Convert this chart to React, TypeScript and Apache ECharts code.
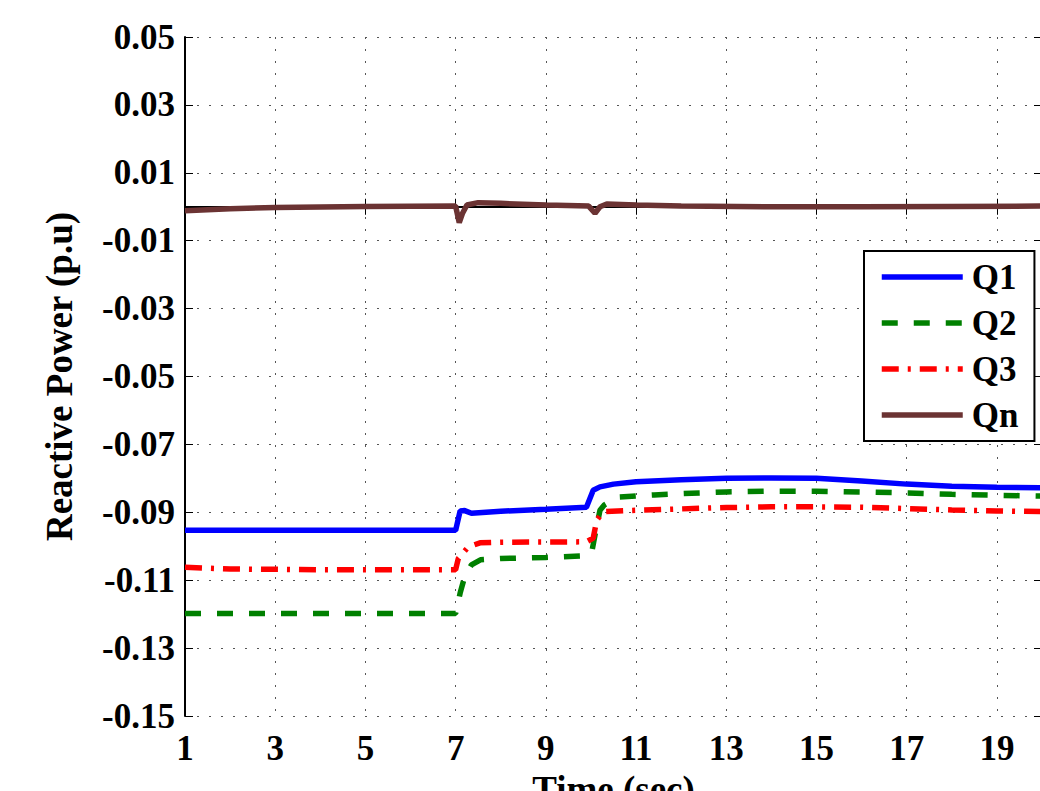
import React, { useEffect, useRef } from "react";
import * as echarts from "echarts";

const timeQ1 = [1, 7.0, 7.1, 7.2, 7.35, 8, 9, 9.9, 10.05, 10.2, 10.5, 11, 12, 13, 14, 15, 16, 17, 18, 19, 20];
const q1 = [-0.0953, -0.0953, -0.0896, -0.0895, -0.0903, -0.0897, -0.0891, -0.0885, -0.0835, -0.0825, -0.0817, -0.081, -0.0804, -0.08, -0.0799, -0.08, -0.0808, -0.0817, -0.0823, -0.0826, -0.0828];

const timeQ2 = [1, 7.0, 7.1, 7.2, 7.35, 7.55, 8, 9, 9.9, 10.02, 10.1, 10.2, 10.3, 10.6, 11.4, 12, 13, 14, 15, 16, 17, 18, 19, 20];
const q2 = [-0.1198, -0.1198, -0.1138, -0.109, -0.1055, -0.104, -0.1036, -0.1033, -0.1028, -0.1016, -0.096, -0.0894, -0.0878, -0.0855, -0.0849, -0.0845, -0.084, -0.0838, -0.0838, -0.084, -0.0843, -0.0847, -0.085, -0.0852];

const timeQ3 = [1, 2, 4, 7.0, 7.06, 7.28, 7.54, 8, 9.9, 10.05, 10.13, 10.27, 10.8, 12, 13, 14, 15, 16, 17, 18, 19, 20];
const q3 = [-0.1062, -0.1067, -0.1069, -0.1069, -0.1036, -0.1002, -0.099, -0.0988, -0.0987, -0.0976, -0.0923, -0.0898, -0.0895, -0.089, -0.0886, -0.0884, -0.0884, -0.0885, -0.0889, -0.0893, -0.0896, -0.0898];

const timeQn = [1, 2, 3, 5, 7.0, 7.08, 7.15, 7.25, 7.5, 8, 9, 9.95, 10.09, 10.2, 10.35, 11, 12, 14, 16, 18, 20];
const qn = [-0.0012, -0.0006, -0.0002, 0.0001, 0.0002, -0.0047, -0.002, 0.0005, 0.0012, 0.001, 0.0005, 0.0002, -0.0019, 0.0, 0.0008, 0.0005, 0.0002, 0.0, 0.0, 0.0001, 0.0002];

const seriesNames = ["Q1", "Q2", "Q3", "Qn"];
const xTicks = { min: 1, max: 20, interval: 2 };
const yTicks = { min: -0.15, max: 0.05, interval: 0.02 };

const FONT = "'Liberation Serif', 'Times New Roman', serif";

function pairs(t: number[], v: number[]) {
  return t.map((x, i) => [x, v[i]]);
}

export default function App() {
  const ref = useRef<HTMLDivElement>(null);
  useEffect(() => {
    if (!ref.current) return;
    const chart = echarts.init(ref.current, null, { renderer: "svg" });
    const gridLine = { show: true, lineStyle: { color: "#555", width: 1, type: [2, 10] as any } };
    const axisLine = { show: true, lineStyle: { color: "#000", width: 2 } };
    const tick = { show: true, inside: true, length: 8, lineStyle: { color: "#000", width: 1 } };
    const label = { color: "#000", fontFamily: FONT, fontWeight: "bold" as const, fontSize: 35 };
    const LW = 5.5;
    chart.setOption({
      animation: false,
      backgroundColor: "#fff",
      grid: { left: 185, right: -2, top: 37, bottom: 75, containLabel: false, outerBoundsMode: "none" },
      legend: {
        orient: "vertical",
        left: 864,
        top: 251,
        data: seriesNames,
        backgroundColor: "#fff",
        borderColor: "#000",
        borderWidth: 2,
        borderRadius: 0,
        padding: [8, 16, 8, 15],
        itemWidth: 81,
        itemHeight: 1,
        itemGap: 10,
        lineStyle: { width: LW },
        textStyle: { ...label, lineHeight: 36, padding: [0, 0, 0, 4] },
      },
      xAxis: [
        {
          type: "value",
          ...xTicks,
          position: "bottom",
          name: "Time (sec)",
          nameLocation: "middle",
          nameGap: 50,
          nameTextStyle: { ...label, fontSize: 37 },
          axisLine,
          axisTick: tick,
          axisLabel: { ...label, margin: 15, showMaxLabel: false },
          splitLine: gridLine,
        },
        {
          type: "value",
          ...xTicks,
          position: "top",
          axisLine,
          axisTick: tick,
          axisLabel: { show: false },
          splitLine: { show: false },
        },
      ],
      yAxis: [
        {
          type: "value",
          ...yTicks,
          position: "left",
          name: "Reactive Power (p.u)",
          nameLocation: "middle",
          nameGap: 107,
          nameRotate: 90,
          nameTextStyle: { ...label, fontSize: 37 },
          axisLine,
          axisTick: tick,
          axisLabel: { ...label, margin: 10, formatter: (v: number) => v.toFixed(2) },
          splitLine: gridLine,
        },
        {
          type: "value",
          ...yTicks,
          position: "right",
          axisLine,
          axisTick: tick,
          axisLabel: { show: false },
          splitLine: { show: false },
        },
      ],
      series: [
        {
          name: "Q1", type: "line", data: pairs(timeQ1, q1), showSymbol: false, symbol: "none",
          color: "#0000ff", lineStyle: { color: "#0000ff", width: LW, type: "solid" },
        },
        {
          name: "Q2", type: "line", data: pairs(timeQ2, q2), showSymbol: false, symbol: "none",
          color: "#008000", lineStyle: { color: "#008000", width: LW, type: [16, 16] },
        },
        {
          name: "Q3", type: "line", data: pairs(timeQ3, q3), showSymbol: false, symbol: "none",
          color: "#ff0000", lineStyle: { color: "#ff0000", width: LW, type: [17, 9, 3, 9] },
        },
        {
          name: "Qn", type: "line", data: pairs(timeQn, qn), showSymbol: false, symbol: "none",
          color: "#6b3333", lineStyle: { color: "#6b3333", width: LW, type: "solid" },
        },
      ],
    });
    return () => chart.dispose();
  }, []);
  return (
    <div
      ref={ref}
      style={{ position: "fixed", left: 0, top: 0, width: 1040, height: 791, background: "#fff" }}
    />
  );
}
